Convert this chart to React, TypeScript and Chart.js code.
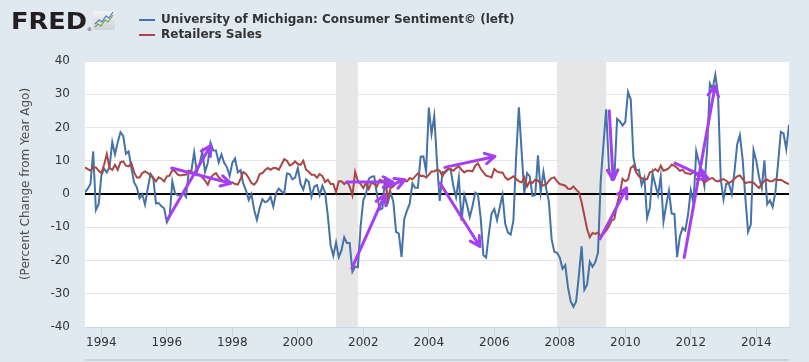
import React, { useEffect, useRef } from 'react';
import { Chart, registerables } from 'chart.js';

Chart.register(...registerables);

// Monthly data, first observation July 1993, last January 2015
const START_YEAR = 1993;
const START_MONTH = 7;

// University of Michigan: Consumer Sentiment, % change from year ago
const sentiment: number[] = [
  0.5, 1.6, 3.0, 12.8, -4.8, -3.1,
  5.6, 7.6, 6.5, 8.2, 15.6, 11.9, 15.6, 18.6, 17.5, 12.1, 12.8, 7.8,
  3.5, 2.0, -1.3, -0.1, -3.2, 1.6, 6.1, 4.9, -2.8, -2.7, -3.7, -4.3,
  -8.5, -6.9, 3.8, 0.2, -0.4, -0.3, 0.3, -0.9, 6.5, 7.0, 12.5, 6.5,
  9.1, 12.7, 6.7, 9.4, 15.4, 13.1, 13.1, 9.5, 11.9, 9.4, 8.1, 5.4,
  9.4, 10.7, 6.5, 7.2, 3.2, 1.1, -1.8, 0.0, -4.8, -7.8, -4.2, -1.6,
  -2.5, -2.1, -0.8, -3.8, 0.3, 1.6, 0.8, 0.1, 6.2, 6.0, 4.4, 4.9,
  7.8, 3.0, 1.3, 4.4, 3.7, -0.8, 2.2, 2.7, -0.4, 2.5, 0.4, -6.6,
  -15.4, -18.6, -14.6, -19.0, -16.9, -13.0, -14.7, -14.7, -23.4, -21.8, -22.0, -9.8,
  -1.8, 0.1, 4.6, 5.2, 5.3, -0.2, -4.7, -4.3, 5.3, -2.5, 0.4, -2.4,
  -11.4, -11.9, -18.9, -7.5, -5.0, -2.9, 3.2, 1.9, 1.9, 11.2, 11.3, 6.8,
  26.0, 18.1, 23.5, 9.5, -2.1, 6.6, 6.4, 7.4, 7.4, 2.3, -1.0, 4.9,
  -8.0, -0.3, -3.3, -6.9, -3.7, 0.4, -0.2, -7.1, -18.4, -19.1, -12.1, -5.8,
  -4.5, -7.9, -4.0, -0.3, -9.0, -11.6, -12.2, -8.0, 11.1, 26.1, 12.9, 0.2,
  6.3, 5.3, -0.6, -0.3, 11.6, 0.5, 6.7, 1.7, -2.3, -13.6, -17.4, -17.7,
  -19.1, -22.5, -21.4, -28.1, -32.3, -33.9, -32.3, -24.5, -15.7, -28.8, -27.3, -20.4,
  -21.9, -20.5, -17.6, 4.0, 14.9, 25.5, 7.8, 4.3, 4.6, 22.6, 21.9, 20.6,
  21.6, 30.7, 28.4, 10.9, 7.1, 7.3, 2.7, 4.9, -7.2, -4.1, 6.2, 2.8,
  -0.3, 5.3, -8.3, -3.3, 1.0, -5.9, -6.0, -19.0, -12.8, -10.2, -11.0, -6.2,
  1.1, -2.8, 12.9, 9.5, 6.7, 2.4, 13.5, 33.2, 31.6, 35.9, 29.8, 4.3,
  -1.6, 3.1, 3.1, 0.0, 6.6, 14.9, 17.7, 10.5, -1.0, -11.4, -9.2, 13.2,
  10.0, 5.2, 1.8, 10.1, -3.1, -1.9, -3.9, 0.5, 9.2, 18.7, 18.2, 13.5,
  20.8,
];

// Retailers Sales, % change from year ago
const retail: number[] = [
  8, 7.5, 7, 8, 8, 7,
  6.3, 8.8, 12, 7.8, 7.3, 8.8, 7.3, 9.6, 9.8, 8.5, 8.3, 9.3,
  6.5, 5, 5, 6.3, 6.8, 6.3, 5.6, 4.8, 3.8, 5, 4.6, 3.8,
  5.3, 5.5, 7.3, 6.8, 5.8, 5.6, 5.8, 5.8, 7, 6.8, 6, 5.8,
  5.8, 5, 4, 2.8, 4.8, 5.8, 6.3, 5, 4.3, 3.8, 3.8, 3.6,
  3.5, 3, 2.8, 4.5, 6.6, 6, 4.8, 3.3, 2.8, 3.8, 6, 6.3,
  7.2, 7.8, 7.3, 7.8, 7.8, 7.3, 8.8, 10.5, 10, 8.6, 9, 9.8,
  9, 8.8, 10, 7.3, 6.7, 5.8, 5.8, 4.9, 6, 5.4, 3.6, 4.3,
  3, 3, 0.5, 3.8, 3.8, 3, 3.7, 2.3, -0.4, 6.6, 4, 3,
  1.8, 3.3, 1.5, 3.5, 3, 2.3, 4.3, 4, 4, -1.5, 1.8, 2.3,
  3.2, 4, 3.8, 4, 3.8, 4.8, 4.4, 5.3, 6.2, 5.4, 5.5, 5,
  5.8, 6.8, 6.8, 7.3, 7, 5.3, 6.8, 7.5, 7.5, 7, 7.8, 8.3,
  7.3, 6.5, 7, 7, 6.8, 8.5, 9.2, 7.6, 6.5, 5.5, 5.3, 5,
  7.5, 6.8, 6.5, 6.5, 5, 4.3, 4.8, 5.3, 4.5, 3.8, 3.5, 5,
  2.3, 3.8, 3.3, 4.3, 4, 3, 2.6, 2.8, 4, 4.8, 5, 3.8,
  3, 2.8, 2.5, 1.6, 1.5, 2.3, 1.3, 0.5, -2.5, -6.5, -10.5, -13,
  -11.7, -12, -11.6, -12.7, -12, -11, -9.7, -8, -7.5, -3, 0, 4.6,
  3.8, 4.3, 7.8, 8.5, 6.5, 5.3, 4.8, 4.3, 4.5, 6.5, 6.8, 7.5,
  6.8, 8.5, 7, 7.3, 7.8, 8.8, 8.5, 7.8, 7, 7.3, 6.3, 6.2,
  6, 6.6, 6.3, 4.6, 4.5, 3.5, 4, 4.6, 4.8, 4, 3.8, 4.2,
  4.5, 4, 3.3, 3.8, 4.6, 5.3, 5.6, 4.5, 3.3, 3.5, 3.6, 3.4,
  2.6, 1.8, 3, 4, 4.3, 3.8, 3.8, 4.5, 4.2, 4.3, 3.8, 3.3,
  3,
];

const xTickYears = [1994, 1996, 1998, 2000, 2002, 2004, 2006, 2008, 2010, 2012, 2014];
const yTickValues = [-40, -30, -20, -10, 0, 10, 20, 30, 40];

// Recessions (decimal years): Mar 2001 - Nov 2001, Dec 2007 - Jun 2009
const recessionStarts = [2001 + 2 / 12, 2007 + 11 / 12];
const recessionEnds = [2001 + 10 / 12, 2009 + 5 / 12];

// Hand-drawn annotation arrows, in data space: [fromYear, fromValue, toYear, toValue]
const arrows: number[][] = [
  [1996.02, -7.7, 1997.34, 14.6],
  [1996.15, 7.8, 1997.95, 3.2],
  [2001.65, -22.3, 2002.66, -0.2],
  [2001.49, 3.6, 2002.9, 3.6],
  [2002.75, 2.2, 2003.27, 4.3],
  [2004.49, 8.0, 2006.02, 11.3],
  [2004.34, 3.3, 2005.56, -15.8],
  [2009.51, 25.0, 2009.63, 4.3],
  [2009.23, -13.5, 2010.04, 1.8],
  [2011.52, 9.3, 2012.53, 4.6],
  [2011.8, -19.1, 2012.74, 32.4],
];

const seriesLabels = ['University of Michigan: Consumer Sentiment\u00A9 (left)', 'Retailers Sales'];
const seriesColors = ['#4572a7', '#aa4643'];
const yAxisTitle = '(Percent Change from Year Ago)';

const FONT = '"DejaVu Sans", Verdana, sans-serif';

const toPoints = (vals: number[]) =>
  vals.map((v, i) => ({ x: START_YEAR + (START_MONTH - 1 + i) / 12, y: v }));

const decor = {
  id: 'fredDecor',
  beforeDraw(chart: any) {
    const { ctx, chartArea: a, scales } = chart;
    const x = scales.x;
    ctx.save();
    ctx.fillStyle = '#e1e9f0';
    ctx.fillRect(0, 0, chart.width, chart.height);
    ctx.fillStyle = '#ffffff';
    ctx.fillRect(a.left, a.top, a.right - a.left, a.bottom - a.top);
    ctx.fillStyle = '#e6e6e6';
    recessionStarts.forEach((s, i) => {
      const x0 = x.getPixelForValue(s);
      const x1 = x.getPixelForValue(recessionEnds[i]);
      ctx.fillRect(x0, a.top, x1 - x0, a.bottom - a.top);
    });
    ctx.restore();
  },
  afterDatasetsDraw(chart: any) {
    const { ctx, chartArea: a, scales } = chart;
    const x = scales.x;
    const y = scales.y;
    ctx.save();
    ctx.beginPath();
    ctx.rect(a.left, a.top, a.right - a.left, a.bottom - a.top);
    ctx.clip();
    ctx.strokeStyle = '#a63ff3';
    ctx.lineWidth = 3;
    ctx.lineCap = 'round';
    ctx.lineJoin = 'round';
    const L = 11;
    const spread = 0.5;
    arrows.forEach(([xa, ya, xb, yb]) => {
      const x0 = x.getPixelForValue(xa);
      const y0 = y.getPixelForValue(ya);
      const x1 = x.getPixelForValue(xb);
      const y1 = y.getPixelForValue(yb);
      const ang = Math.atan2(y1 - y0, x1 - x0);
      ctx.beginPath();
      ctx.moveTo(x0, y0);
      ctx.lineTo(x1, y1);
      ctx.moveTo(x1 - L * Math.cos(ang - spread), y1 - L * Math.sin(ang - spread));
      ctx.lineTo(x1, y1);
      ctx.lineTo(x1 - L * Math.cos(ang + spread), y1 - L * Math.sin(ang + spread));
      ctx.stroke();
    });
    ctx.restore();
  },
  afterDraw(chart: any) {
    const { ctx, chartArea: a } = chart;
    ctx.save();
    // FRED logo
    ctx.fillStyle = '#231f20';
    ctx.font = `bold 23px ${FONT}`;
    ctx.textBaseline = 'alphabetic';
    ctx.textAlign = 'left';
    const w = ctx.measureText('FRED').width;
    ctx.save();
    ctx.translate(11, 29);
    ctx.scale(76 / w, 1);
    ctx.fillText('FRED', 0, 0);
    ctx.restore();
    ctx.font = `5px ${FONT}`;
    ctx.fillText('\u00AE', 87, 31);
    // logo icon
    const g = ctx.createLinearGradient(0, 11, 0, 30);
    g.addColorStop(0, '#f2f2f2');
    g.addColorStop(1, '#cfd2d4');
    ctx.fillStyle = g;
    ctx.beginPath();
    ctx.roundRect(93, 11, 22, 19, 2);
    ctx.fill();
    ctx.lineWidth = 1.2;
    ctx.strokeStyle = '#6aa84f';
    ctx.beginPath();
    ctx.moveTo(95, 27); ctx.lineTo(98, 24); ctx.lineTo(101, 26); ctx.lineTo(105, 20); ctx.lineTo(108, 22); ctx.lineTo(113, 15);
    ctx.stroke();
    ctx.strokeStyle = '#4a7fb5';
    ctx.beginPath();
    ctx.moveTo(95, 24); ctx.lineTo(99, 20); ctx.lineTo(102, 22); ctx.lineTo(106, 16); ctx.lineTo(109, 18); ctx.lineTo(113, 12);
    ctx.stroke();

    // legend
    ctx.font = `bold 12px ${FONT}`;
    ctx.textBaseline = 'middle';
    seriesLabels.forEach((lab, i) => {
      const cy = 20 + i * 15;
      ctx.strokeStyle = seriesColors[i];
      ctx.lineWidth = 2;
      ctx.beginPath();
      ctx.moveTo(139, cy);
      ctx.lineTo(155, cy);
      ctx.stroke();
      ctx.fillStyle = '#333333';
      ctx.fillText(lab, 161, cy);
    });

    // y-axis title
    ctx.save();
    ctx.translate(26, 184);
    ctx.rotate(-Math.PI / 2);
    ctx.font = `12px ${FONT}`;
    ctx.fillStyle = '#4d4d4d';
    ctx.textAlign = 'center';
    ctx.textBaseline = 'middle';
    ctx.fillText(yAxisTitle, 0, 0);
    ctx.restore();

    // bottom separator line
    ctx.fillStyle = '#c9d1d9';
    ctx.fillRect(a.left, 359, a.right - a.left, 2);
    ctx.restore();
  },
};

export default function App() {
  const ref = useRef<HTMLCanvasElement | null>(null);

  useEffect(() => {
    if (!ref.current) return;
    const chart = new Chart(ref.current, {
      type: 'line',
      data: {
        datasets: [
          {
            label: seriesLabels[0],
            data: toPoints(sentiment),
            borderColor: seriesColors[0],
            borderWidth: 2,
            pointRadius: 0,
            tension: 0,
            order: 2,
          },
          {
            label: seriesLabels[1],
            data: toPoints(retail),
            borderColor: seriesColors[1],
            borderWidth: 2,
            pointRadius: 0,
            tension: 0,
            order: 1,
          },
        ],
      },
      options: {
        responsive: false,
        animation: false,
        devicePixelRatio: 1,
        parsing: false,
        layout: { padding: { left: 0, right: 20, top: 61, bottom: 0 } },
        plugins: { legend: { display: false }, tooltip: { enabled: false } },
        scales: {
          x: {
            type: 'linear',
            min: START_YEAR + (START_MONTH - 1) / 12,
            max: 2015,
            afterBuildTicks: (scale: any) => {
              scale.ticks = xTickYears.map((v) => ({ value: v }));
            },
            afterFit: (scale: any) => {
              scale.height = 35;
            },
            ticks: {
              font: { family: FONT, size: 12 },
              color: '#333333',
              padding: -1,
              maxRotation: 0,
              autoSkip: false,
              callback: (v: any) => String(v),
            },
            grid: {
              drawOnChartArea: false,
              drawTicks: true,
              tickLength: 10,
              color: '#ccd6eb',
            },
            border: { display: true, color: '#ccd6eb', width: 1 },
          },
          y: {
            type: 'linear',
            min: -40,
            max: 40,
            afterBuildTicks: (scale: any) => {
              scale.ticks = yTickValues.map((v) => ({ value: v }));
            },
            afterFit: (scale: any) => {
              scale.width = 85;
            },
            ticks: {
              font: { family: FONT, size: 12 },
              color: '#333333',
              padding: 15,
              callback: (v: any) => String(v),
            },
            grid: {
              drawTicks: false,
              color: (c: any) => (c.tick && c.tick.value === 0 ? '#000000' : '#e6e6e6'),
              lineWidth: (c: any) => (c.tick && c.tick.value === 0 ? 2 : 1),
            },
            border: { display: false },
          },
        },
      },
      plugins: [decor],
    } as any);
    return () => chart.destroy();
  }, []);

  return (
    <div style={{ position: 'absolute', left: 0, top: 0, width: 809, height: 362 }}>
      <canvas ref={ref} width={809} height={362} style={{ display: 'block' }} />
    </div>
  );
}
